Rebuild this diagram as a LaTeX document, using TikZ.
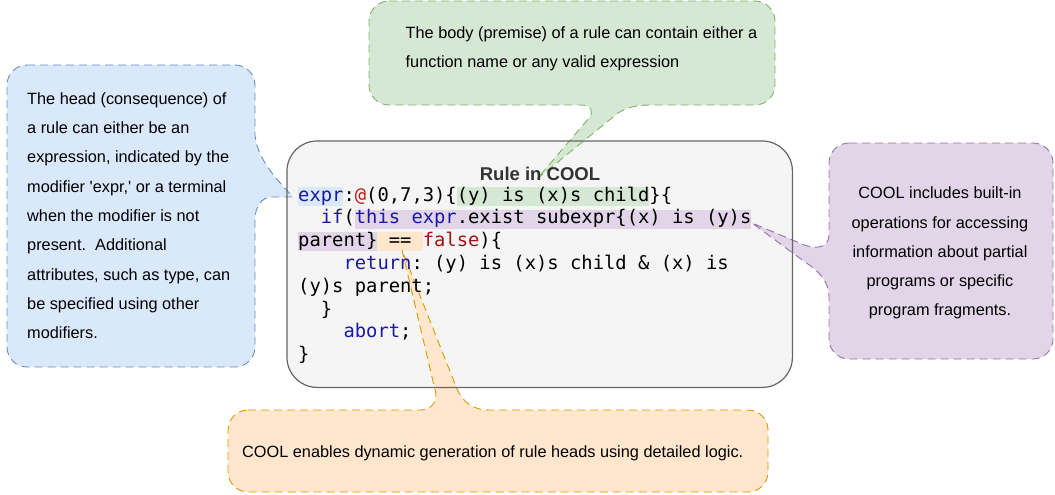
\documentclass[tikz,border=0pt]{standalone}
\usepackage{fontspec}
\setmainfont{Liberation Sans}
\setmonofont{DejaVu Sans Mono}
\definecolor{blueF}{HTML}{DAE8FC}\definecolor{blueD}{HTML}{6C8EBF}
\definecolor{greenF}{HTML}{D5E8D4}\definecolor{greenD}{HTML}{82B366}
\definecolor{purpF}{HTML}{E1D5E7}\definecolor{purpD}{HTML}{9673A6}
\definecolor{oranF}{HTML}{FFE6CC}\definecolor{oranD}{HTML}{D79B00}
\definecolor{boxF}{HTML}{F5F5F5}\definecolor{boxD}{HTML}{666666}
\definecolor{kw}{HTML}{1A1AA6}\definecolor{atc}{HTML}{C41A16}\definecolor{strc}{HTML}{A31515}
\definecolor{titlec}{HTML}{333333}
\newcommand{\cw}{11.33}
\tikzset{
  callout/.style={line width=0.9pt, dash pattern=on 8pt off 5pt},
  note/.style={inner sep=0pt, text=black, font=\fontsize{16.3}{29.3}\selectfont},
  code/.style={inner sep=0pt, anchor=base west, font=\ttfamily\fontsize{18.82}{22.8}\selectfont},
}
\begin{document}
\begin{tikzpicture}[x=1pt,y=-1pt]
\useasboundingbox (0,0) rectangle (1055,495);
% main box fill
\node[fill=boxF, rounded corners=30pt, minimum width=505pt, minimum height=246pt, anchor=north west, inner sep=0pt] (rule) at (287,141) {};
% code highlights
\fill[blueF] (298,186.7) rectangle ({298+4*\cw},205.7);
\fill[greenF] ({298+14*\cw},186.7) rectangle ({298+31*\cw},205.7);
\fill[purpF] ({298+5*\cw},209.5) rectangle ({298+40*\cw},228.5);
\fill[purpF] (298,232.3) rectangle ({298+7*\cw},251.3);
\fill[oranF] ({298+7*\cw},232.3) rectangle ({298+11*\cw},251.3);
% blue callout
\draw[callout, draw=blueD, fill=blueF]
  (27,65) -- (235,65) .. controls (246,65) and (255,74) .. (255,85)
  -- (255,135) .. controls (257,158) and (275,178) .. (293,197)
  -- (272,197) .. controls (262,197) and (255,206) .. (255,220)
  -- (255,347) .. controls (255,358) and (246,367) .. (235,367)
  -- (27,367) .. controls (16,367) and (7,358) .. (7,347)
  -- (7,85) .. controls (7,74) and (16,65) .. (27,65) -- cycle;
% green callout
\draw[callout, draw=greenD, fill=greenF]
  (389,1) -- (755,1) .. controls (766,1) and (775,10) .. (775,21)
  -- (775,85) .. controls (775,96) and (766,105) .. (755,105)
  -- (650,105) .. controls (636,105) and (626,108) .. (618,113)
  -- (537,179)
  -- (589,118) .. controls (594,112) and (592,105) .. (580,105)
  -- (389,105) .. controls (378,105) and (369,96) .. (369,85)
  -- (369,21) .. controls (369,10) and (378,1) .. (389,1) -- cycle;
% purple callout
\draw[callout, draw=purpD, fill=purpF]
  (849,143) -- (1033,143) .. controls (1044,143) and (1053,152) .. (1053,163)
  -- (1053,339) .. controls (1053,350) and (1044,359) .. (1033,359)
  -- (849,359) .. controls (838,359) and (829,350) .. (829,339)
  -- (829,297) .. controls (829,282) and (820,272) .. (805,262)
  -- (752,223)
  -- (802,244) .. controls (815,250) and (829,248) .. (829,235)
  -- (829,163) .. controls (829,152) and (838,143) .. (849,143) -- cycle;
% orange callout
\draw[callout, draw=oranD, fill=oranF]
  (248,410) -- (420,410) .. controls (430,410) and (436,404) .. (436,394)
  -- (402,250)
  -- (457,389) .. controls (463,402) and (472,410) .. (490,410)
  -- (748,410) .. controls (759,410) and (768,419) .. (768,430)
  -- (768,472) .. controls (768,483) and (759,492) .. (748,492)
  -- (248,492) .. controls (237,492) and (228,483) .. (228,472)
  -- (228,430) .. controls (228,419) and (237,410) .. (248,410) -- cycle;
% main box border
\draw[boxD, line width=1.2pt, rounded corners=30pt] (rule.north west) rectangle (rule.south east);
% title
\node[inner sep=0pt, anchor=base, text=titlec, font=\bfseries\fontsize{18.5}{22}\selectfont] (title) at (540,180) {Rule in COOL};
% code
\frenchspacing
\node[code] (c1) at (298,201) {\textcolor{kw}{expr}:\textcolor{atc}{@}(0,7,3)\{(y) is (x)s child\}\{};
\node[code] (c2) at ({298+2*\cw},223.8) {\textcolor{kw}{if}(\textcolor{kw}{this expr}.exist subexpr\{(x) is (y)s};
\node[code] (c3) at (298,246.6) {parent\} == \textcolor{strc}{false})\{};
\node[code] (c4) at ({298+4*\cw},269.4) {\textcolor{kw}{return}: (y) is (x)s child \& (x) is};
\node[code] (c5) at (298,292.2) {(y)s parent;};
\node[code] (c6) at ({298+2*\cw},315) {\}};
\node[code] (c7) at ({298+4*\cw},337.8) {\textcolor{kw}{abort};};
\node[code] (c8) at (298,360.6) {\}};
% callout texts
\node[note, anchor=north west, align=left] (headtxt) at (27,92) {\rule{0pt}{12pt}The head (consequence) of\\a rule can either be an\\expression, indicated by the\\modifier \textquotesingle expr,\textquotesingle{} or a terminal\\when the modifier is not\\present.\ \ Additional\\attributes, such as type, can\\be specified using other\\modifiers.};
\node[note, anchor=north west, align=left] (bodytxt) at (405.5,26) {\rule{0pt}{12pt}The body (premise) of a rule can contain either a\\function name or any valid expression};
\node[note, anchor=north, align=center] (opstxt) at (940,186.5) {\rule{0pt}{12pt}COOL includes built-in\\operations for accessing\\information about partial\\programs or specific\\program fragments.};
\node[note, anchor=base west] (gentxt) at (242,457.5) {COOL enables dynamic generation of rule heads using detailed logic.};
\end{tikzpicture}
\end{document}
